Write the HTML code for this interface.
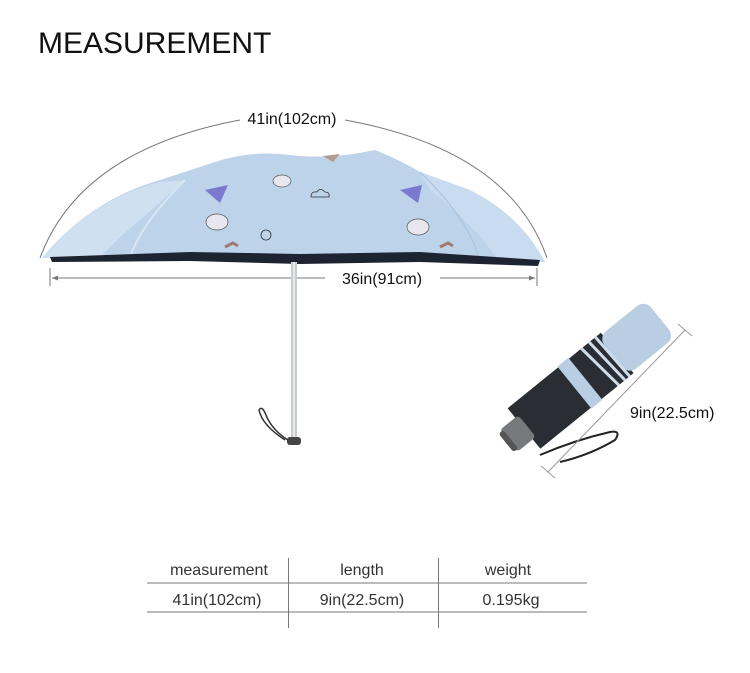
<!DOCTYPE html>
<html><head><meta charset="utf-8"><style>
html,body{margin:0;padding:0;background:#fff;}
svg{display:block;}
text{font-family:"Liberation Sans",Arial,sans-serif;}
</style></head><body>
<svg width="750" height="673" viewBox="0 0 750 673" xmlns="http://www.w3.org/2000/svg">
<text x="38" y="53" font-size="30" fill="#111">MEASUREMENT</text>

<path d="M40 258 Q 80 150 240 120" fill="none" stroke="#777" stroke-width="1"/>
<path d="M345 120 Q 510 150 547 258" fill="none" stroke="#777" stroke-width="1"/>
<text x="292" y="124" font-size="16" text-anchor="middle" fill="#111">41in(102cm)</text>

<path d="M42 258 Q 90 200 160 180 L 215 162 Q 250 150 290 155 Q 330 160 375 150 Q 400 160 420 172 L 470 190 Q 520 215 545 262 L 470 258 L 380 258 L 295 262 L 190 258 L 130 258 Z" fill="#bdd3ea"/>
<path d="M42 258 Q 90 200 160 182 L 185 180 L 140 220 Q 110 245 100 258 Z" fill="#cfe0f0"/>
<path d="M420 172 L 470 190 Q 520 215 545 262 L 500 262 Q 470 220 430 190 Z" fill="#c9dcef"/>
<path d="M185 180 Q 140 225 130 258" fill="none" stroke="#d8e6f3" stroke-width="2"/>
<path d="M420 172 Q 470 220 480 262" fill="none" stroke="#a9c1db" stroke-width="1"/>
<path d="M50 257 L 190 252 L 300 254 L 420 252 L 540 260 L 538 266 L 420 262 L 300 264 L 190 261 L 52 262 Z" fill="#1c2431"/>
<path d="M205 190 L 228 185 L 220 203 Z" fill="#7b78d0"/>
<path d="M400 190 L 422 185 L 418 203 Z" fill="#7b78d0"/>
<path d="M323 156 L 340 154 L 333 162 Z" fill="#b59a8e"/>
<ellipse cx="217" cy="222" rx="11" ry="8" fill="#e8e6ee" stroke="#555" stroke-width=".7"/>
<ellipse cx="282" cy="181" rx="9" ry="6" fill="#e8e6ee" stroke="#555" stroke-width=".7"/>
<ellipse cx="418" cy="227" rx="11" ry="8" fill="#e8e6ee" stroke="#555" stroke-width=".7"/>
<path d="M311 197 q0-6 6-5 q3-5 8 0 q5 0 4 5 z" fill="none" stroke="#333" stroke-width=".8"/>
<circle cx="266" cy="235" r="5" fill="none" stroke="#333" stroke-width=".8"/>
<path d="M225 247 l8-4 l5 3" fill="none" stroke="#a07a70" stroke-width="3"/>
<path d="M440 247 l8-4 l5 3" fill="none" stroke="#a07a70" stroke-width="3"/>

<line x1="50" y1="268" x2="50" y2="286" stroke="#777"/>
<line x1="537" y1="268" x2="537" y2="286" stroke="#777"/>
<line x1="52" y1="278" x2="325" y2="278" stroke="#777"/>
<line x1="440" y1="278" x2="535" y2="278" stroke="#777"/>
<path d="M52 278 l6 -2.5 v5 z M535 278 l-6 -2.5 v5 z" fill="#777"/>
<text x="382" y="284" font-size="16" text-anchor="middle" fill="#111">36in(91cm)</text>

<rect x="291" y="262" width="6" height="176" fill="#c9cdd2"/>
<line x1="294" y1="262" x2="294" y2="438" stroke="#eef0f2" stroke-width="1.5"/>
<rect x="287" y="437" width="14" height="8" rx="3" fill="#444"/>
<path d="M288 440 Q 272 430 266 415 Q 262 405 259 410 Q 262 425 285 440" fill="none" stroke="#333" stroke-width="1.5"/>

<g transform="translate(590 375) rotate(-39)">
<rect x="-85" y="-26" width="120" height="52" fill="#2a2d33"/>
<rect x="30" y="-24" width="60" height="48" rx="10" fill="#b9cde3"/>
<rect x="-20" y="-27" width="14" height="54" fill="#b9cde3"/>
<path d="M10 -26 l6 52 M20 -26 l4 52 M28 -26 l2 52" stroke="#cfdcea" stroke-width="3"/>
<rect x="-105" y="-14" width="24" height="28" rx="4" fill="#77797c"/>
<rect x="-108" y="-12" width="6" height="24" rx="3" fill="#555"/>
</g>
<path d="M540 455 Q 575 440 610 432 Q 622 430 615 440 Q 590 455 560 462" fill="none" stroke="#222" stroke-width="2"/>
<line x1="548" y1="472" x2="685" y2="330" stroke="#999"/>
<line x1="541" y1="466" x2="555" y2="478" stroke="#999"/>
<line x1="678" y1="324" x2="692" y2="336" stroke="#999"/>
<text x="630" y="418" font-size="16" fill="#111">9in(22.5cm)</text>

<line x1="147" y1="583" x2="587" y2="583" stroke="#777"/>
<line x1="147" y1="612" x2="587" y2="612" stroke="#777"/>
<line x1="288.5" y1="558" x2="288.5" y2="628" stroke="#777"/>
<line x1="438.5" y1="558" x2="438.5" y2="628" stroke="#777"/>
<g font-size="16" fill="#333" text-anchor="middle">
<text x="219" y="575">measurement</text>
<text x="362" y="575">length</text>
<text x="508" y="575">weight</text>
<text x="217" y="605">41in(102cm)</text>
<text x="362" y="605">9in(22.5cm)</text>
<text x="511" y="605">0.195kg</text>
</g>
</svg>
</body></html>
